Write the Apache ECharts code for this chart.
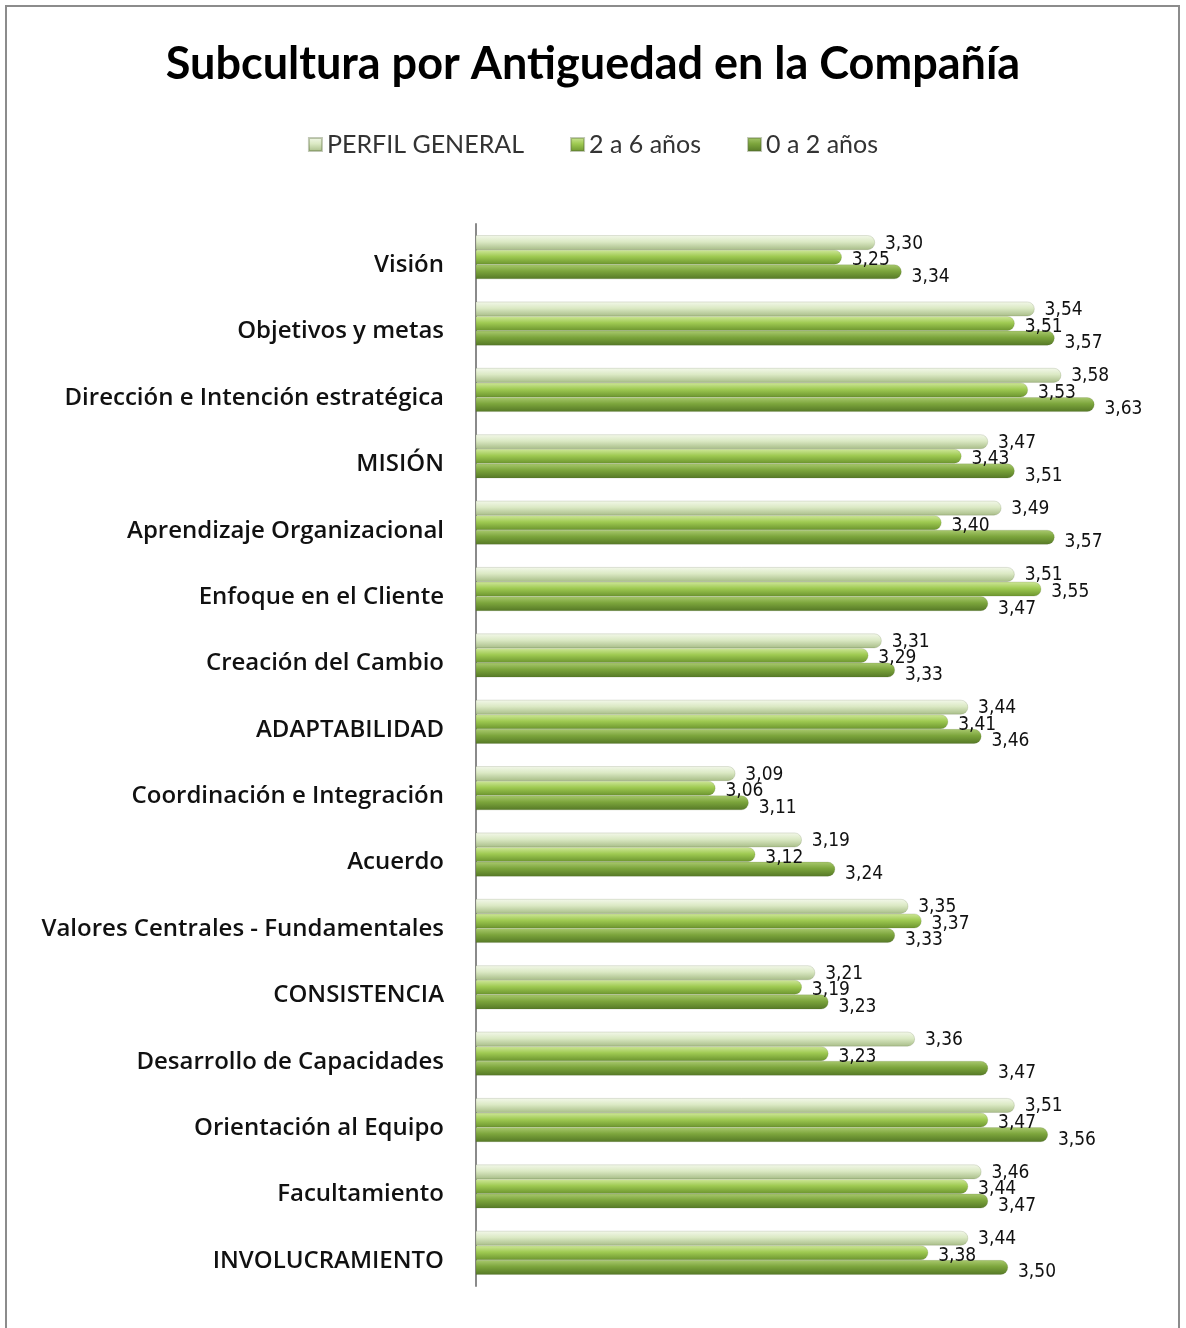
<!DOCTYPE html>
<html><head><meta charset="utf-8">
<script src="https://cdn.jsdelivr.net/npm/echarts@6/dist/echarts.min.js"></script>
<style>
html,body{margin:0;padding:0;background:#fff;}
#frame{position:absolute;left:5px;top:5px;width:1175px;height:1330px;border:2px solid #8c8c8c;box-sizing:border-box;}
#c{position:absolute;left:0;top:0;width:1186px;height:1328px;}
</style></head>
<body>
<div id="frame"></div>
<div id="c"></div>
<script>
const categories = ["Visión","Objetivos y metas","Dirección e Intención estratégica","MISIÓN","Aprendizaje Organizacional","Enfoque en el Cliente","Creación del Cambio","ADAPTABILIDAD","Coordinación e Integración","Acuerdo","Valores Centrales - Fundamentales","CONSISTENCIA","Desarrollo de Capacidades","Orientación al Equipo","Facultamiento","INVOLUCRAMIENTO"];
const seriesNames = ["PERFIL GENERAL","2 a 6 años","0 a 2 años"];
const perfilGeneral = [3.30,3.54,3.58,3.47,3.49,3.51,3.31,3.44,3.09,3.19,3.35,3.21,3.36,3.51,3.46,3.44];
const dosASeis = [3.25,3.51,3.53,3.43,3.40,3.55,3.29,3.41,3.06,3.12,3.37,3.19,3.23,3.47,3.44,3.38];
const ceroADos = [3.34,3.57,3.63,3.51,3.57,3.47,3.33,3.46,3.11,3.24,3.33,3.23,3.47,3.56,3.47,3.50];

const grads = [
  ['#f3f8ea','#dbe9c4','#a8bd88'],
  ['#cfe79a','#9fca52','#6b942e'],
  ['#a9c96e','#7ca53c','#557826']
];
function grad(c){
  return new echarts.graphic.LinearGradient(0,0,0,1,[
    {offset:0,color:c[0]},{offset:0.45,color:c[1]},{offset:1,color:c[2]}]);
}
const fmt = v => v.toFixed(2).replace('.',',');
const labelOffsets = [[0,1],[0,3],[0,5]];
const datasets = [perfilGeneral,dosASeis,ceroADos];

const chart = echarts.init(document.getElementById('c'));
chart.setOption({
  animation:false,
  title:{text:'Subcultura por Antiguedad en la Compañía',left:'center',top:37,
    textStyle:{fontFamily:'Lato',fontWeight:'bold',fontSize:45,color:'#000'}},
  legend:{top:127,left:'center',itemWidth:13,itemHeight:13,itemGap:46,icon:'rect',
    data:seriesNames,
    textStyle:{fontFamily:'Lato',fontSize:25,color:'#333'}},
  grid:{left:476,right:45,top:224,bottom:42,containLabel:false},
  xAxis:{type:'value',min:2.7,max:3.7,show:false},
  yAxis:{type:'category',data:categories,inverse:true,
    axisLine:{show:true,lineStyle:{color:'#8a8a8a',width:2}},
    axisTick:{show:false},
    axisLabel:{fontFamily:'Open Sans',fontWeight:600,fontSize:24,color:'#111',margin:32,verticalAlign:'top',lineHeight:16}},
  series: datasets.map((d,i)=>({
    name:seriesNames[i],type:'bar',data:d,barGap:'0%',barCategoryGap:'34%',
    itemStyle:{color:grad(grads[i]),borderRadius:[0,7,7,0],borderColor:'rgba(80,100,50,0.35)',borderWidth:0.5},
    label:{show:true,position:'right',distance:10,offset:labelOffsets[i],
      formatter:p=>fmt(p.value),
      fontFamily:'Liberation Sans Narrow, DejaVu Sans Condensed, sans-serif',fontSize:19,color:'#111'}
  }))
});
</script>
</body></html>
